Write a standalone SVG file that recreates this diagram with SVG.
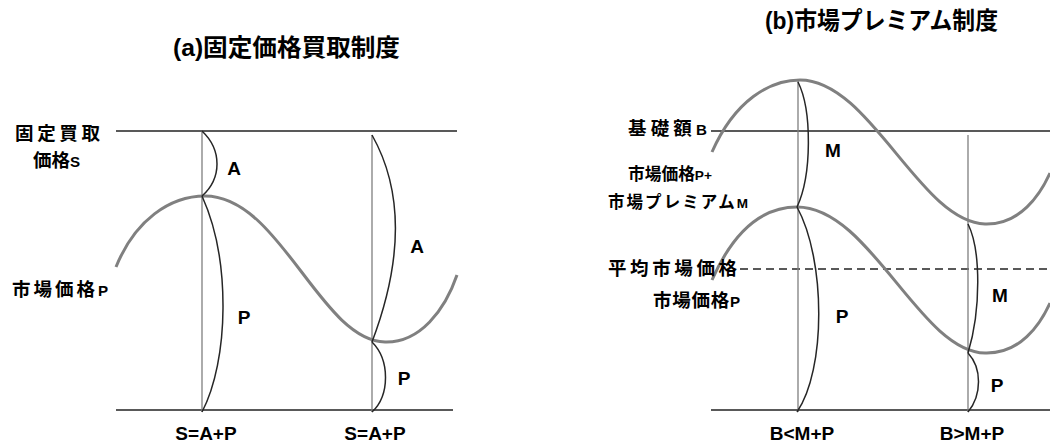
<svg xmlns="http://www.w3.org/2000/svg" width="1050" height="446" viewBox="0 0 1050 446">
<style>
text{font-family:"Liberation Sans","Noto Sans CJK JP",sans-serif;font-weight:bold;fill:#000}
.t{font-size:24px}
.lb{font-size:18.5px}
.sm{font-size:16.5px}
.lt{font-size:0.82em}
.v{font-size:19px}
.h{stroke:#595959;stroke-width:2;fill:none}
.vl{stroke:#7f7f7f;stroke-width:1.3;fill:none}
.gc{stroke:#808080;stroke-width:3;fill:none}
.bc{stroke:#262626;stroke-width:1.5;fill:none}
.d{stroke:#595959;stroke-width:1.8;stroke-dasharray:8 5;fill:none}
</style>
<rect width="1050" height="446" fill="#fff"/>
<g id="panel-a">
  <text class="t" x="173" y="56" textLength="227" lengthAdjust="spacingAndGlyphs">(a)固定価格買取制度</text>
  <g id="a-axes">
    <line class="h" x1="116" y1="131" x2="457" y2="131"/>
    <line class="h" x1="116" y1="410" x2="453" y2="410"/>
    <line class="vl" x1="202" y1="131" x2="202" y2="412"/>
    <line class="vl" x1="372" y1="135" x2="372" y2="412"/>
  </g>
  <path class="gc" d="M116,267 C135,220 170,196 205,196 C280,196 320,340 385,342 C420,343 445,310 457,275"/>
  <g id="a-braces">
    <path class="bc" d="M202,131 C222,150 222,178 202,196"/>
    <path class="bc" d="M202,196 C231,260 229,360 202,412"/>
    <path class="bc" d="M372,135 C403,190 403,260 372,342"/>
    <path class="bc" d="M372,342 C390,360 390,395 372,412"/>
  </g>
  <g id="a-labels">
    <text class="lb" x="15" y="140" textLength="85" lengthAdjust="spacing">固定買取</text>
    <text class="lb" x="33" y="167">価格<tspan class="lt">S</tspan></text>
    <text class="lb" x="12" y="296" textLength="96" lengthAdjust="spacing">市場価格<tspan class="lt">P</tspan></text>
    <text class="v" x="234" y="175" text-anchor="middle">A</text>
    <text class="v" x="417" y="253" text-anchor="middle">A</text>
    <text class="v" x="244" y="324" text-anchor="middle">P</text>
    <text class="v" x="404" y="385" text-anchor="middle">P</text>
    <text class="v" x="206" y="440" text-anchor="middle">S=A+P</text>
    <text class="v" x="375" y="440" text-anchor="middle">S=A+P</text>
  </g>
</g>
<g id="panel-b">
  <text class="t" x="765" y="29" textLength="233" lengthAdjust="spacingAndGlyphs">(b)市場プレミアム制度</text>
  <g id="b-axes">
    <line class="h" x1="711" y1="131" x2="1050" y2="131"/>
    <line class="h" x1="711" y1="410" x2="1050" y2="410"/>
    <line class="d" x1="740" y1="269" x2="1050" y2="269"/>
    <line class="vl" x1="798" y1="81" x2="798" y2="412"/>
    <line class="vl" x1="968" y1="135" x2="968" y2="412"/>
  </g>
  <path class="gc" d="M712,152 C735,100 770,80 800,80 C870,80 920,222 985,224 C1020,225 1040,195 1050,173"/>
  <path class="gc" d="M712,280 C735,228 765,207 797,207 C870,207 920,352 985,353 C1020,354 1040,325 1050,303"/>
  <g id="b-braces">
    <path class="bc" d="M798,82 C812,110 812,175 797,207"/>
    <path class="bc" d="M797,207 C826,260 826,370 797,412"/>
    <path class="bc" d="M968,224 C981,250 981,310 968,353"/>
    <path class="bc" d="M968,353 C982,368 982,395 968,412"/>
  </g>
  <g id="b-labels">
    <text class="lb" x="628" y="135" textLength="79" lengthAdjust="spacing">基礎額<tspan class="lt">B</tspan></text>
    <text class="sm" x="628" y="180" textLength="84" lengthAdjust="spacingAndGlyphs">市場価格<tspan class="lt">P+</tspan></text>
    <text class="sm" x="608" y="208" textLength="140" lengthAdjust="spacing">市場プレミアム<tspan class="lt">M</tspan></text>
    <text class="lb" x="608" y="275" textLength="129" lengthAdjust="spacing">平均市場価格</text>
    <text class="lb" x="653" y="307" textLength="87" lengthAdjust="spacing">市場価格<tspan class="lt">P</tspan></text>
    <text class="v" x="833" y="157" text-anchor="middle">M</text>
    <text class="v" x="842" y="323" text-anchor="middle">P</text>
    <text class="v" x="1000" y="302" text-anchor="middle">M</text>
    <text class="v" x="997" y="392" text-anchor="middle">P</text>
    <text class="v" x="802" y="440" text-anchor="middle">B&lt;M+P</text>
    <text class="v" x="972" y="440" text-anchor="middle">B&gt;M+P</text>
  </g>
</g>
</svg>
